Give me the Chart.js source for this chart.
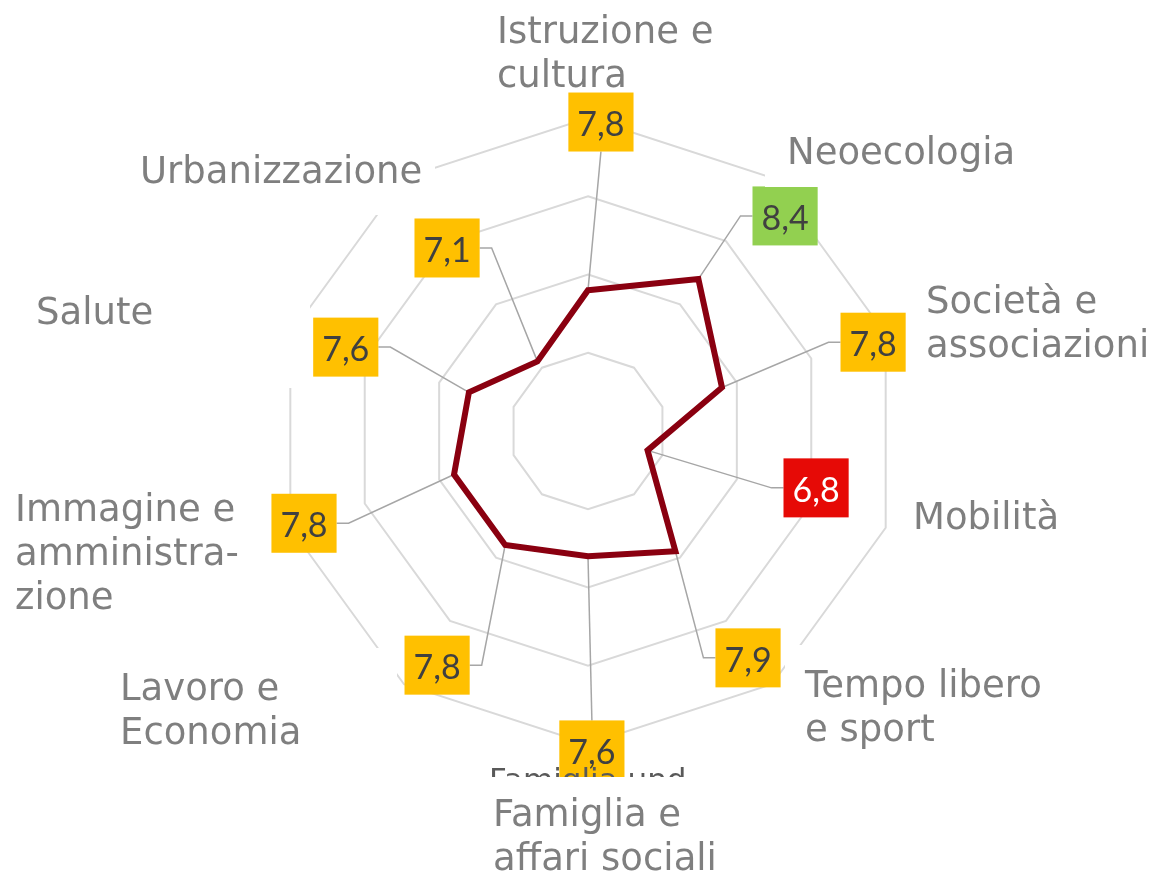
<!DOCTYPE html>
<html>
<head>
<meta charset="utf-8">
<script src="https://cdn.jsdelivr.net/npm/chart.js@4.4.1/dist/chart.umd.min.js"></script>
<style>
  html, body { margin: 0; padding: 0; background: #fff; }
  #wrap { width: 1153px; height: 873px; position: relative; }
</style>
</head>
<body>
<div id="wrap"><canvas id="chart"></canvas></div>
<script>
// data
const categories = [
  "Istruzione e cultura", "Neoecologia", "Società e associazioni", "Mobilità",
  "Tempo libero e sport", "Famiglia e affari sociali", "Lavoro e Economia",
  "Immagine e amministrazione", "Salute", "Urbanizzazione"
];
const scores = [7.8, 8.4, 7.8, 6.8, 7.9, 7.6, 7.8, 7.8, 7.6, 7.1];
const scaleMin = 6;
const scaleMax = 10;

// label text as printed (line breaks)
const labelLines = [
  ["Istruzione e", "cultura"], ["Neoecologia"], ["Società e", "associazioni"], ["Mobilità"],
  ["Tempo libero", "e sport"], ["Famiglia e", "affari sociali"], ["Lavoro e", "Economia"],
  ["Immagine e", "amministra-", "zione"], ["Salute"], ["Urbanizzazione"]
];
// half-hidden older label showing through above "Famiglia e"
const ghostLabel = "Famiglia und";

// layout of the annotations
const labelAt = [[497, 43], [787, 164], [926, 313], [913, 529], [805, 697],
                 [493, 826], [120, 700], [15, 521], [36, 324], [140, 183]];
const labelMasks = [
  [765, 130, 250, 57],   // Neoecologia
  [130, 140, 305, 75],   // Urbanizzazione
  [25, 290, 285, 98],    // Salute
  [10, 490, 247, 130],   // Immagine
  [105, 648, 292, 95],   // Lavoro
  [785, 645, 270, 110],  // Tempo libero
  [480, 777, 260, 96]    // Famiglia
];
// value boxes: [distance as share of radius, angle tweak in degrees]
const boxAt = [[0.988, 2.4], [0.932, 6.5], [0.954, 0.7], [0.751, -4], [0.887, 0.8],
               [1.019, -0.7], [0.890, -3.2], [0.954, 0], [0.819, 1.1], [0.738, -1.6]];
const boxColors = ["#ffc000", "#92d050", "#ffc000", "#e60a06", "#ffc000",
                   "#ffc000", "#ffc000", "#ffc000", "#ffc000", "#ffc000"];
const boxTextColors = ["#404040", "#404040", "#404040", "#ffffff", "#404040",
                       "#404040", "#404040", "#404040", "#404040", "#404040"];

function boxRect(ctx, scale, i) {
  const a = scale.getIndexAngle(i) + boxAt[i][1] * Math.PI / 180 - Math.PI / 2;
  const d = boxAt[i][0] * scale.drawingArea;
  const cx = scale.xCenter + Math.cos(a) * d;
  const cy = scale.yCenter + Math.sin(a) * d;
  const text = scores[i].toFixed(1).replace(".", ",");
  ctx.font = '34px Lato, "Open Sans", sans-serif';
  const w = ctx.measureText(text).width + 18;
  const h = 59;
  return { cx, cy, w, h, text };
}

const callouts = {
  id: "callouts",
  beforeDatasetsDraw(chart) {
    const ctx = chart.ctx;
    const scale = chart.scales.r;
    const pts = chart.getDatasetMeta(0).data;
    ctx.save();
    ctx.strokeStyle = "#a6a6a6";
    ctx.lineWidth = 1.5;
    scores.forEach((v, i) => {
      const b = boxRect(ctx, scale, i);
      const p = pts[i];
      ctx.beginPath();
      ctx.moveTo(p.x, p.y);
      if (Math.abs(b.cx - scale.xCenter) < 40) {
        ctx.lineTo(b.cx, b.cy < scale.yCenter ? b.cy + b.h / 2 : b.cy - b.h / 2);
      } else {
        const side = b.cx > scale.xCenter ? b.cx - b.w / 2 : b.cx + b.w / 2;
        const knee = b.cx > scale.xCenter ? side - 12 : side + 12;
        ctx.lineTo(knee, b.cy);
        ctx.lineTo(side, b.cy);
      }
      ctx.stroke();
    });
    ctx.restore();
  },
  afterDatasetsDraw(chart) {
    const ctx = chart.ctx;
    const scale = chart.scales.r;
    ctx.save();
    scores.forEach((v, i) => {
      const b = boxRect(ctx, scale, i);
      ctx.fillStyle = boxColors[i];
      ctx.fillRect(b.cx - b.w / 2, b.cy - b.h / 2, b.w, b.h);
      ctx.fillStyle = boxTextColors[i];
      ctx.textAlign = "center";
      ctx.textBaseline = "middle";
      ctx.fillText(b.text, b.cx, b.cy + 3);
    });

    // old label peeking out just above the "Famiglia e" label
    ctx.save();
    ctx.beginPath();
    ctx.rect(480, 740, 240, 37);
    ctx.clip();
    ctx.font = '31px "DejaVu Sans", Verdana, sans-serif';
    ctx.fillStyle = "#595959";
    ctx.textAlign = "left";
    ctx.textBaseline = "alphabetic";
    ctx.fillText(ghostLabel, 489, 790);
    ctx.restore();

    ctx.fillStyle = "#ffffff";
    labelMasks.forEach(m => ctx.fillRect(m[0], m[1], m[2], m[3]));
    ctx.font = '37px "DejaVu Sans", Verdana, sans-serif';
    ctx.fillStyle = "#7f7f7f";
    ctx.textAlign = "left";
    ctx.textBaseline = "alphabetic";
    labelLines.forEach((lines, i) => {
      lines.forEach((t, k) => ctx.fillText(t, labelAt[i][0], labelAt[i][1] + k * 44));
    });
    ctx.restore();
  }
};

new Chart(document.getElementById("chart"), {
  type: "radar",
  data: {
    labels: categories,
    datasets: [{
      data: scores,
      borderColor: "#8a0010",
      borderWidth: 6,
      borderJoinStyle: "miter",
      pointRadius: 0,
      pointHoverRadius: 0,
      fill: false,
      tension: 0
    }]
  },
  options: {
    responsive: true,
    maintainAspectRatio: false,
    animation: false,
    layout: { padding: { left: 275, right: 252, top: 118, bottom: 129 } },
    plugins: { legend: { display: false }, tooltip: { enabled: false } },
    scales: {
      r: {
        min: scaleMin,
        max: scaleMax,
        ticks: { stepSize: 1, display: false },
        grid: { circular: false, color: "#d9d9d9", lineWidth: 2 },
        angleLines: { display: false },
        pointLabels: { display: false }
      }
    }
  },
  plugins: [callouts]
});
</script>
</body>
</html>
